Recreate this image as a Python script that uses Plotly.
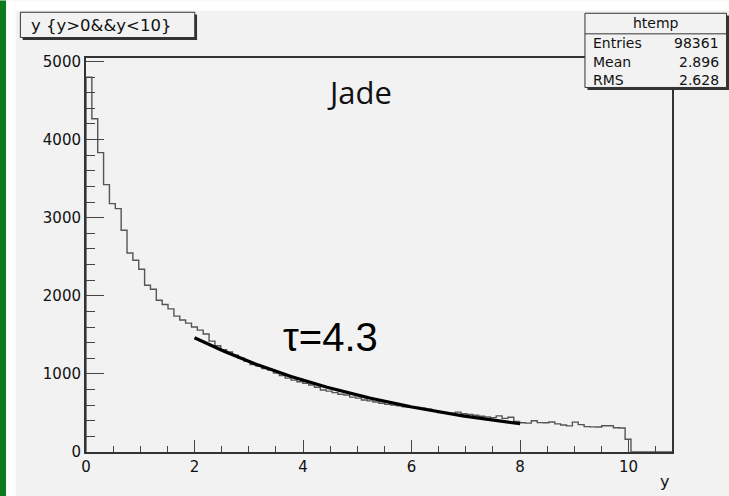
import numpy as np
import plotly.graph_objects as go

# ---- histogram "htemp": 100 equal bins on [0, 10.8] ----
x_min, x_max, n_bins = 0.0, 10.8, 100
bin_counts = [
    4800, 4267, 3833, 3423, 3180, 3116, 2839, 2549, 2455, 2340,
    2136, 2084, 1944, 1889, 1833, 1740, 1690, 1650, 1600, 1560,
    1510, 1420, 1360, 1310, 1280, 1240, 1200, 1160, 1120, 1100,
    1070, 1050, 1010, 980, 946, 920, 900, 880, 857, 830,
    793, 780, 760, 740, 729, 703, 690, 665, 655, 640,
    625, 610, 600, 590, 580, 575, 570, 560, 548, 530,
    505, 500, 495, 510, 490, 480, 470, 458, 450, 440,
    462, 430, 445, 392, 374, 370, 400, 376, 375, 385,
    360, 345, 335, 383, 350, 325, 322, 320, 336, 336,
    310, 307, 164, 0, 0, 0, 0, 0, 0, 0,
]

# ---- exponential fit over [2, 8] ----
fit_tau = 4.3
fit_norm = 2330.0
fit_range = [2.0, 8.0]

# ---- text content ----
hist_title = "y {y&gt;0&amp;&amp;y&lt;10}"
stats_title = "htemp"
stats_labels = ["Entries", "Mean", "RMS"]
stats_values = ["98361", "2.896", "2.628"]
sample_label = "Jade"
fit_label = "\u03c4=4.3"
x_title = "y"

y_range = [0, 5045]

# ---- canvas geometry (pixels) ----
W, H = 729, 496
L, R, T, B = 86.3, 672.0, 57.5, 452.0


def px(x):
    return (x - L) / (R - L)


def py(y):
    return (B - y) / (B - T)


edges = np.linspace(x_min, x_max, n_bins + 1)
hist_x = np.concatenate([[x_min], edges])
hist_y = np.concatenate([[0], bin_counts, [bin_counts[-1]]])

fit_x = np.linspace(fit_range[0], fit_range[1], 200)
fit_y = fit_norm * np.exp(-fit_x / fit_tau)

fig = go.Figure()
fig.add_trace(go.Scatter(
    x=hist_x, y=hist_y, mode="lines", line_shape="hv",
    line=dict(color="#555555", width=1.4), hoverinfo="skip", showlegend=False,
))
fig.add_trace(go.Scatter(
    x=fit_x, y=fit_y, mode="lines",
    line=dict(color="#000000", width=3.2), hoverinfo="skip", showlegend=False,
))

frame = "#333333"
tick_col = "#444444"
font_main = "DejaVu Sans"
text_col = "#111111"

shapes = []


def rect(x0, y0, x1, y1, fill=None, line_col=None, lw=0):
    shapes.append(dict(
        type="rect", xref="paper", yref="paper",
        x0=px(x0), x1=px(x1), y0=py(y1), y1=py(y0),
        fillcolor=fill if fill else "rgba(0,0,0,0)",
        line=dict(color=line_col if line_col else "rgba(0,0,0,0)", width=lw),
        layer="above",
    ))


# window border: green strip and white margin
rect(0, 0, 6.5, H, fill="#0b7a1a")
rect(6.5, 0, 16, H, fill="#ffffff")
rect(16, 0, W, 10, fill="#ffffff")

# title box with drop shadow
rect(20.7, 11.7, 195.0, 37.0, fill="#f2f2f2", line_col=frame, lw=1)
rect(23.0, 37.0, 197.3, 39.5, fill=frame)
rect(195.0, 14.0, 197.3, 39.5, fill=frame)

# statistics box with drop shadow
rect(585.0, 12.7, 726.5, 87.0, fill="#f2f2f2", line_col=frame, lw=1)
rect(587.5, 87.0, 729.0, 89.5, fill=frame)
rect(726.5, 15.0, 729.0, 89.5, fill=frame)
shapes.append(dict(type="line", xref="paper", yref="paper",
                   x0=px(585.0), x1=px(726.5), y0=py(33.3), y1=py(33.3),
                   line=dict(color=frame, width=1), layer="above"))

annotations = [
    dict(text=hist_title, x=px(29.5), y=py(25.3), xanchor="left", yanchor="middle",
         font=dict(family=font_main, size=16.5, color=text_col)),
    dict(text=stats_title, x=px(656.5), y=py(22.8), xanchor="center", yanchor="middle",
         font=dict(family=font_main, size=14, color=text_col)),
    dict(text=sample_label, x=px(360), y=py(91.5), xanchor="center", yanchor="middle",
         font=dict(family="Open Sans", size=31, color=text_col)),
    dict(text=fit_label, x=px(331), y=py(336.5), xanchor="center", yanchor="middle",
         font=dict(family="Liberation Sans", size=40, color="#000000")),
    dict(text=x_title, x=px(671), y=py(482), xanchor="right", yanchor="middle",
         font=dict(family=font_main, size=16, color=text_col)),
]
for lab, val, yy in zip(stats_labels, stats_values, [42.5, 62.0, 79.5]):
    annotations.append(dict(text=lab, x=px(591.5), y=py(yy), xanchor="left", yanchor="middle",
                            font=dict(family=font_main, size=14, color=text_col)))
    annotations.append(dict(text=val, x=px(721), y=py(yy), xanchor="right", yanchor="middle",
                            font=dict(family=font_main, size=14, color=text_col)))
for a in annotations:
    a.update(xref="paper", yref="paper", showarrow=False)

fig.update_layout(
    width=W, height=H,
    margin=dict(l=L, r=W - R, t=T, b=H - B, pad=0),
    paper_bgcolor="#f2f2f2", plot_bgcolor="#f2f2f2",
    shapes=shapes, annotations=annotations,
    showlegend=False,
)
fig.update_xaxes(
    range=[x_min, x_max], tick0=0, dtick=2, tickmode="linear",
    ticks="inside", ticklen=12, tickwidth=1.3, tickcolor=tick_col,
    minor=dict(ticks="inside", ticklen=6, dtick=0.5, tickwidth=1.3, tickcolor=tick_col),
    showline=True, linewidth=2, linecolor=frame, mirror=True,
    showgrid=False, zeroline=False,
    tickfont=dict(family=font_main, size=15, color=text_col),
)
fig.update_yaxes(
    range=y_range, tick0=0, dtick=1000, tickmode="linear", exponentformat="none",
    ticks="inside", ticklen=17.6, tickwidth=1.3, tickcolor=tick_col,
    minor=dict(ticks="inside", ticklen=8.8, dtick=200, tickwidth=1.3, tickcolor=tick_col),
    showline=True, linewidth=2, linecolor=frame, mirror=True,
    showgrid=False, zeroline=False,
    tickfont=dict(family=font_main, size=15, color=text_col),
)

fig.write_html("out.html")
